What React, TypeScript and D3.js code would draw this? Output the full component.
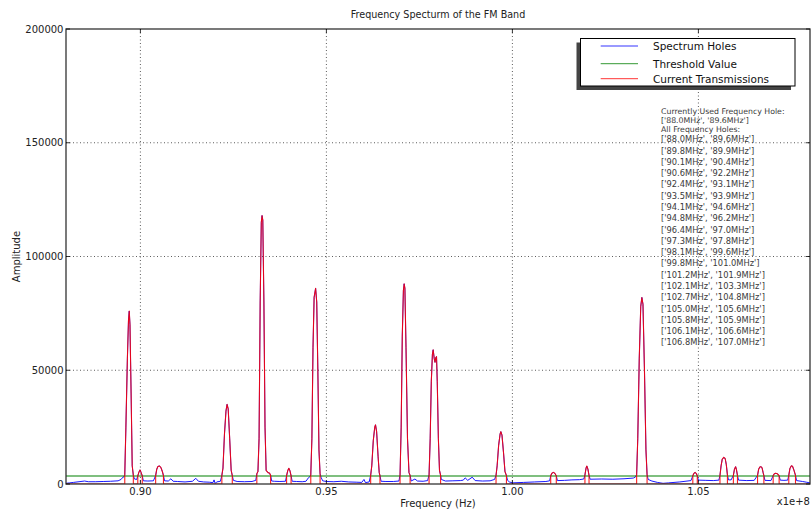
import React from "react";
import * as d3 from "d3";

const WIDTH = 812;
const HEIGHT = 510;
const PLOT = { left: 66, right: 810, top: 29, bottom: 484 };

const TITLE = "Frequency Specturm of the FM Band";
const THRESHOLD = 3500;
const xDomain = [88, 108]; // MHz
const xTicks = [90, 95, 100, 105]; // MHz, labelled in units of 1e8 Hz
const yTicks = [0, 50000, 100000, 150000, 200000];
const seriesNames = ["Spectrum Holes", "Threshold Value", "Current Transmissions"];
const seriesColors = ["#0000ff", "#008000", "#ff0000"];

const usedHole = "['88.0MHz', '89.6MHz']";
const allHoles = [
  "['88.0MHz', '89.6MHz']",
  "['89.8MHz', '89.9MHz']",
  "['90.1MHz', '90.4MHz']",
  "['90.6MHz', '92.2MHz']",
  "['92.4MHz', '93.1MHz']",
  "['93.5MHz', '93.9MHz']",
  "['94.1MHz', '94.6MHz']",
  "['94.8MHz', '96.2MHz']",
  "['96.4MHz', '97.0MHz']",
  "['97.3MHz', '97.8MHz']",
  "['98.1MHz', '99.6MHz']",
  "['99.8MHz', '101.0MHz']",
  "['101.2MHz', '101.9MHz']",
  "['102.1MHz', '103.3MHz']",
  "['102.7MHz', '104.8MHz']",
  "['105.0MHz', '105.6MHz']",
  "['105.8MHz', '105.9MHz']",
  "['106.1MHz', '106.6MHz']",
  "['106.8MHz', '107.0MHz']",
];

// Measured amplitude across the band: [frequency in MHz, amplitude]
const spectrum: [number, number][] = [
  [88.0, 300], [88.1, 500], [88.2, 700], [88.35, 1000], [88.5, 1300], [88.6, 1000],
  [88.8, 1000], [89.0, 1100], [89.2, 1200], [89.4, 1400], [89.48, 2000], [89.53, 3000], [89.56, 3200],
  [89.58, 4200], [89.61, 25000], [89.65, 55000], [89.68, 72000], [89.7, 76000], [89.72, 70000],
  [89.75, 40000], [89.78, 8000], [89.81, 3800],
  [89.84, 2200], [89.9, 2000],
  [89.93, 3600], [89.96, 5200], [89.99, 6200], [90.02, 5000], [90.05, 3600],
  [90.08, 1400], [90.2, 1300], [90.35, 1400],
  [90.41, 3700], [90.44, 6500], [90.47, 7700], [90.51, 7900], [90.55, 7300], [90.59, 5500], [90.62, 3700],
  [90.65, 1400], [90.75, 1300], [90.82, 2300], [90.88, 1200], [91.0, 1100], [91.2, 900], [91.4, 1200],
  [91.49, 2500], [91.56, 1200], [91.7, 900], [91.85, 800], [91.95, 600], [91.98, 1800], [92.01, 200],
  [92.05, 900], [92.15, 1200],
  [92.19, 3800], [92.22, 7000], [92.26, 22000], [92.3, 32000], [92.33, 35000], [92.36, 33000],
  [92.4, 20000], [92.44, 6000], [92.47, 3700],
  [92.5, 1600], [92.6, 1100], [92.8, 1000], [93.0, 1100], [93.1, 1600],
  [93.13, 4500], [93.16, 5500], [93.19, 20000], [93.22, 80000], [93.25, 115000], [93.27, 118000],
  [93.29, 116000], [93.32, 80000], [93.35, 25000], [93.38, 6000], [93.43, 5000], [93.47, 4800], [93.5, 3800],
  [93.53, 1300], [93.6, 1200], [93.75, 1100], [93.9, 1200],
  [93.93, 3700], [93.96, 5800], [93.99, 6900], [94.02, 5800], [94.05, 3700],
  [94.08, 1200], [94.2, 1100], [94.35, 1000], [94.45, 1200], [94.52, 2800], [94.56, 3300],
  [94.58, 4000], [94.61, 20000], [94.64, 60000], [94.67, 82000], [94.71, 86000], [94.74, 80000],
  [94.77, 50000], [94.8, 15000], [94.83, 4500],
  [94.86, 2800], [94.9, 1400], [95.0, 1100], [95.2, 1000], [95.4, 1200], [95.6, 900], [95.8, 800],
  [95.95, 700], [96.01, 2000], [96.05, 600], [96.15, 900],
  [96.19, 3800], [96.22, 8000], [96.26, 19000], [96.3, 25000], [96.32, 26000], [96.35, 23000],
  [96.39, 12000], [96.42, 5000], [96.44, 3700],
  [96.47, 1200], [96.6, 1100], [96.8, 1100], [96.95, 1300],
  [96.98, 4000], [97.01, 25000], [97.04, 65000], [97.07, 85000], [97.09, 88000], [97.11, 86000],
  [97.14, 60000], [97.18, 20000], [97.22, 5000], [97.25, 3800],
  [97.28, 1300], [97.38, 2200], [97.45, 1300], [97.6, 1200], [97.72, 1500],
  [97.76, 4000], [97.79, 20000], [97.82, 45000], [97.85, 57000], [97.87, 59000], [97.9, 55000],
  [97.92, 53500], [97.94, 55500], [97.96, 56000], [97.98, 45000], [98.01, 20000], [98.04, 6000], [98.07, 3800],
  [98.09, 2000], [98.2, 1300], [98.4, 1400], [98.6, 1500], [98.68, 1700], [98.73, 2700], [98.8, 1600],
  [98.92, 3000], [99.0, 1500], [99.2, 1300], [99.4, 1400], [99.52, 2000],
  [99.56, 3800], [99.59, 8000], [99.63, 17000], [99.67, 22000], [99.69, 23000], [99.72, 21500],
  [99.76, 14000], [99.8, 5500], [99.84, 3700],
  [99.87, 1600], [99.92, 900], [100.0, 500], [100.3, 700], [100.6, 900], [100.9, 1100], [101.0, 1400],
  [101.03, 3600], [101.06, 4700], [101.1, 5100], [101.14, 4700], [101.18, 3600],
  [101.21, 1500], [101.4, 1600], [101.6, 1800], [101.8, 1900], [101.92, 2200],
  [101.95, 4000], [101.98, 7000], [102.0, 7900], [102.03, 6500], [102.06, 3800],
  [102.09, 2100], [102.4, 2200], [102.7, 2100], [103.0, 2300], [103.25, 2600], [103.31, 3100],
  [103.34, 4200], [103.37, 20000], [103.41, 55000], [103.45, 78000], [103.48, 82000], [103.51, 79000],
  [103.55, 50000], [103.59, 15000], [103.62, 4200],
  [103.65, 2000], [103.75, 1300], [103.9, 700], [104.05, 300], [104.2, 500], [104.5, 900], [104.8, 1500],
  [104.85, 3600], [104.88, 4700], [104.91, 5100], [104.94, 4700], [104.97, 3600],
  [105.0, 1700], [105.2, 1600], [105.4, 1500], [105.55, 1700],
  [105.58, 3800], [105.61, 8000], [105.64, 10800], [105.68, 11700], [105.72, 11200], [105.75, 8500], [105.78, 4000],
  [105.81, 1800], [105.88, 1800],
  [105.94, 3800], [105.97, 6500], [106.0, 7600], [106.02, 6500], [106.05, 3800],
  [106.08, 1700], [106.3, 1500], [106.5, 1600],
  [106.59, 3800], [106.62, 6500], [106.65, 7500], [106.68, 7600], [106.71, 7200], [106.74, 5000], [106.76, 3700],
  [106.79, 1600], [106.95, 1500],
  [107.01, 3700], [107.04, 4500], [107.08, 4700], [107.12, 4500], [107.17, 3700],
  [107.2, 1700], [107.3, 1600], [107.4, 1700],
  [107.43, 3800], [107.46, 6800], [107.5, 8000], [107.53, 7800], [107.57, 6000], [107.61, 3800],
  [107.64, 1500], [107.8, 1100], [107.9, 800], [108.0, 500],
];

// Samples at or above the threshold, zero elsewhere, with vertical steps at each edge
function transmissions(data: [number, number][]): [number, number][] {
  const out: [number, number][] = [];
  data.forEach(([f, a], i) => {
    const above = a >= THRESHOLD;
    const prevAbove = i > 0 && data[i - 1][1] >= THRESHOLD;
    if (above && !prevAbove) out.push([f, 0]);
    if (!above && prevAbove) out.push([data[i - 1][0], 0]);
    out.push([f, above ? a : 0]);
  });
  return out;
}

const FONT = "'DejaVu Sans', Verdana, sans-serif";

export default function App() {
  const x = d3.scaleLinear().domain(xDomain).range([PLOT.left, PLOT.right]);
  const y = d3.scaleLinear().domain([0, 200000]).range([PLOT.bottom, PLOT.top]);
  const line = d3
    .line<[number, number]>()
    .x((d) => x(d[0]))
    .y((d) => y(d[1]));

  const bluePath = line(spectrum) || "";
  const redPath = line(transmissions(spectrum)) || "";
  const greenPath = line([
    [xDomain[0], THRESHOLD],
    [xDomain[1], THRESHOLD],
  ]) || "";

  const legend = { x: 580.5, y: 38.5, w: 214.5, h: 47.5 };
  const legendRows = [46, 63.7, 78.7];

  const textX = 661;
  const headerY = [111, 120.2, 129.4];
  const listY0 = 139.3;
  const listStep = 11.28;

  return (
    <svg
      width={WIDTH}
      height={HEIGHT}
      style={{ position: "absolute", left: 0, top: 0, display: "block", background: "#ffffff" }}
      fontFamily={FONT}
    >
      <rect x={0} y={0} width={WIDTH} height={HEIGHT} fill="#ffffff" />

      <defs>
        <clipPath id="plot-clip">
          <rect x={PLOT.left} y={PLOT.top} width={PLOT.right - PLOT.left} height={PLOT.bottom - PLOT.top} />
        </clipPath>
      </defs>

      {/* grid */}
      <g stroke="#333" strokeWidth={0.8} strokeDasharray="1,2.5">
        {xTicks.map((t) => (
          <line key={"gx" + t} x1={x(t)} x2={x(t)} y1={PLOT.top} y2={PLOT.bottom} />
        ))}
        {yTicks.slice(1, -1).map((t) => (
          <line key={"gy" + t} x1={PLOT.left} x2={PLOT.right} y1={y(t)} y2={y(t)} />
        ))}
      </g>

      {/* series */}
      <g clipPath="url(#plot-clip)" fill="none" strokeLinejoin="round">
        <path d={bluePath} stroke={seriesColors[0]} strokeWidth={1} strokeOpacity={0.9} />
        <path d={greenPath} stroke={seriesColors[1]} strokeWidth={1.1} />
        <path d={redPath} stroke={seriesColors[2]} strokeWidth={1.1} strokeOpacity={0.88} />
      </g>

      {/* frame */}
      <rect
        x={PLOT.left}
        y={PLOT.top}
        width={PLOT.right - PLOT.left}
        height={PLOT.bottom - PLOT.top}
        fill="none"
        stroke="#333"
        strokeWidth={1.3}
      />

      {/* ticks */}
      <g stroke="#000" strokeWidth={0.8}>
        {xTicks.map((t) => (
          <g key={"tx" + t}>
            <line x1={x(t)} x2={x(t)} y1={PLOT.bottom} y2={PLOT.bottom - 4} />
            <line x1={x(t)} x2={x(t)} y1={PLOT.top} y2={PLOT.top + 4} />
          </g>
        ))}
        {yTicks.map((t) => (
          <g key={"ty" + t}>
            <line x1={PLOT.left} x2={PLOT.left + 4} y1={y(t)} y2={y(t)} />
            <line x1={PLOT.right} x2={PLOT.right - 4} y1={y(t)} y2={y(t)} />
          </g>
        ))}
      </g>

      {/* tick labels */}
      <g fontSize={10} fill="#222">
        {xTicks.map((t) => (
          <text key={"lx" + t} x={x(t)} y={491.7} textAnchor="middle" dominantBaseline="central">
            {(t / 100).toFixed(2)}
          </text>
        ))}
        {yTicks.map((t) => (
          <text key={"ly" + t} x={63.5} y={y(t)} textAnchor="end" dominantBaseline="central">
            {t}
          </text>
        ))}
        <text x={810} y={501.7} textAnchor="end" dominantBaseline="central">
          x1e+8
        </text>
      </g>

      {/* axis labels and title */}
      <text x={(PLOT.left + PLOT.right) / 2} y={503.3} fontSize={10} textAnchor="middle" dominantBaseline="central" fill="#222">
        Frequency (Hz)
      </text>
      <text
        transform={`translate(16,${(PLOT.top + PLOT.bottom) / 2}) rotate(-90)`}
        fontSize={10}
        textAnchor="middle"
        dominantBaseline="central"
        fill="#222"
      >
        Amplitude
      </text>
      <text x={(PLOT.left + PLOT.right) / 2} y={14} fontSize={9.6} textAnchor="middle" dominantBaseline="central" fill="#222">
        {TITLE}
      </text>

      {/* legend */}
      <rect x={legend.x - 4} y={legend.y + 4} width={legend.w} height={legend.h} fill="#444" />
      <rect x={legend.x} y={legend.y} width={legend.w} height={legend.h} fill="#fff" stroke="#000" strokeWidth={1} />
      {seriesNames.map((name, i) => (
        <g key={name}>
          <line x1={600.7} x2={638} y1={legendRows[i]} y2={legendRows[i]} stroke={seriesColors[i]} strokeWidth={1} strokeOpacity={0.8} />
          <text x={653} y={legendRows[i]} fontSize={10.5} dominantBaseline="central" fill="#111">
            {name}
          </text>
        </g>
      ))}

      {/* frequency hole listing */}
      <g fill="#3a3a3a">
        <g fontSize={7.8}>
          <text x={textX} y={headerY[0]} dominantBaseline="central">Currently Used Frequency Hole:</text>
          <text x={textX} y={headerY[1]} dominantBaseline="central">{usedHole}</text>
          <text x={textX} y={headerY[2]} dominantBaseline="central">All Frequency Holes:</text>
        </g>
        <g fontSize={8.3}>
          {allHoles.map((h, i) => (
            <text key={h + i} x={textX} y={listY0 + i * listStep} dominantBaseline="central">
              {h}
            </text>
          ))}
        </g>
      </g>
    </svg>
  );
}
